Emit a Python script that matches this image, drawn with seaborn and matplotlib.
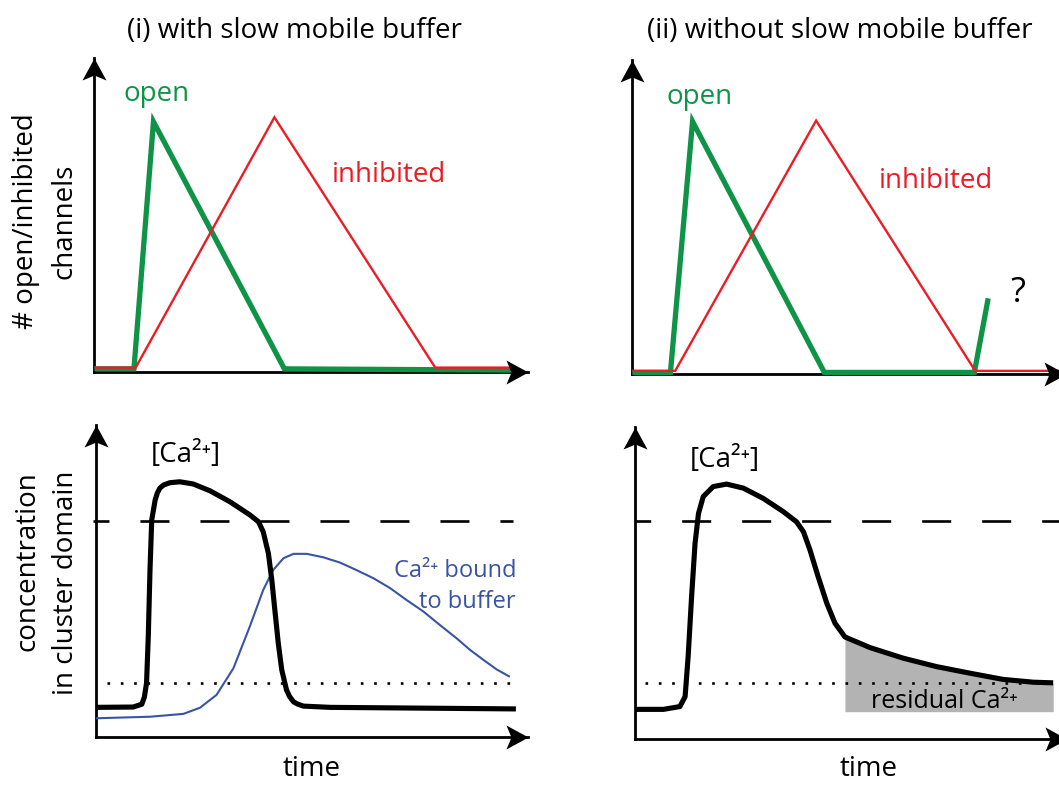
import numpy as np
import matplotlib
matplotlib.use("Agg")
import matplotlib.pyplot as plt
from matplotlib.path import Path
import seaborn as sns

# ---------------- data (time and level in arbitrary units, 0-100) ----------------
# (i) top: open / inhibited channels
open_i_t = [0, 9.1, 13.6, 43.8, 96.9]
open_i_v = [1.0, 1.0, 79.8, 1.0, 0.6]
inh_i_t = [0, 9.5, 41.5, 78.6, 96.5]
inh_i_v = [1.4, 1.4, 81.2, 1.4, 1.4]
# (ii) top: open / inhibited channels
open_ii_t = [0, 8.8, 13.9, 44.3, 78.9, 82.1]
open_ii_v = [0.5, 0.5, 80.4, 0.5, 0.5, 24.1]
inh_ii_t = [0, 9.9, 42.4, 79.1, 100]
inh_ii_v = [1.0, 1.0, 80.7, 1.0, 1.0]

# (i) bottom: [Ca2+] and Ca2+ bound to buffer
ca_i_t = [0, 8.6, 10.6, 11.2, 11.7, 12.1, 12.5, 12.9, 13.7, 14.2, 14.8, 15.7, 17.1,
          19.4, 22.5, 26.4, 31.0, 35.6, 37.6, 38.7, 39.9, 40.7, 41.4, 42.2, 43.0,
          44.1, 44.8, 45.7, 46.6, 48.0, 54.2, 97.2]
ca_i_v = [9.5, 9.6, 10.5, 12.8, 17.3, 32.1, 53.5, 69.6, 76.0, 78.2, 79.8, 80.8, 81.5,
          81.8, 81.1, 78.9, 75.4, 71.2, 69.0, 65.8, 58.9, 50.3, 40.7, 30.0, 21.5,
          15.1, 13.0, 11.3, 10.6, 9.9, 9.5, 9.0]
buf_t = [0, 12.5, 20.2, 24.1, 27.9, 31.8, 35.6, 38.7, 41.0, 43.4, 45.7, 48.8, 52.6,
         56.5, 60.3, 64.2, 68.1, 71.9, 75.8, 79.6, 83.5, 86.6, 89.7, 92.7, 95.8]
buf_v = [6.0, 6.5, 7.4, 9.4, 13.5, 22.0, 35.4, 47.1, 53.5, 57.3, 58.7, 58.7, 57.6,
         55.9, 53.5, 50.9, 47.7, 43.9, 40.2, 35.9, 31.6, 27.9, 24.7, 21.7, 19.3]

# (ii) bottom: [Ca2+]
ca_ii_t = [0, 6.6, 10.4, 11.6, 12.3, 13.1, 13.9, 14.7, 15.8, 18.1, 21.2, 25.1, 29.7,
           34.3, 37.4, 39.0, 40.5, 42.4, 44.4, 46.3, 48.6, 54.4, 62.1, 69.8, 77.5,
           85.2, 92.2, 96.8]
ca_ii_v = [9.5, 9.5, 10.4, 13.6, 26.4, 45.6, 62.7, 72.3, 77.7, 80.9, 81.7, 80.4, 77.1,
           72.9, 69.6, 66.4, 60.6, 52.0, 43.5, 37.1, 32.7, 29.3, 25.9, 23.2, 21.1,
           19.1, 18.2, 18.0]
residual_start = 48.6
residual_floor = 8.75

threshold_i, threshold_ii = 69.2, 69.9     # dashed level
rest_i, rest_ii = 17.4, 18.0               # dotted level

# ---------------- style ----------------
sns.set_theme(style="white")
FONT = "Open Sans"
plt.rcParams["font.family"] = [FONT, "DejaVu Sans"]
plt.rcParams["text.color"] = "black"
plt.rcParams["lines.scale_dashes"] = False

GREEN = "#0f9447"
RED = "#ec1c24"
BLUE = "#3a54a4"
GRAY = "#b3b3b3"
BIG = 20

W, H = 1059, 785
fig = plt.figure(figsize=(W / 100, H / 100), dpi=100)
fig.patch.set_facecolor("white")


def fxy(x, y):
    return x / W, 1 - y / H


def panel(ox, oy, w, h):
    ax = fig.add_axes([ox / W, 1 - oy / H, w / W, h / H])
    ax.set_facecolor("none")
    for s in ["top", "right"]:
        ax.spines[s].set_visible(False)
    for s in ["left", "bottom"]:
        ax.spines[s].set_linewidth(2.0)
        ax.spines[s].set_color("black")
        ax.spines[s].set_zorder(2.5)
    ax.set_xticks([])
    ax.set_yticks([])
    return ax


up_arrow = Path([(0, 0), (12, -22), (0, -17), (-12, -22), (0, 0)],
                [Path.MOVETO, Path.LINETO, Path.LINETO, Path.LINETO, Path.CLOSEPOLY])
right_arrow = Path([(0, 0), (-22, 12), (-17, 0), (-22, -12), (0, 0)],
                   [Path.MOVETO, Path.LINETO, Path.LINETO, Path.LINETO, Path.CLOSEPOLY])


def arrows(ax):
    ax.plot([0], [1], marker=up_arrow, ms=31.7, color="black", mew=0,
            transform=ax.transAxes, clip_on=False, zorder=6)
    ax.plot([1], [0], marker=right_arrow, ms=31.7, color="black", mew=0,
            transform=ax.transAxes, clip_on=False, zorder=6)


def finish(ax):
    ax.set_xlim(0, 100)
    ax.set_ylim(0, 100)
    ax.set_xlabel("")
    ax.set_ylabel("")
    arrows(ax)


def line(ax, t, v, color, lw, z, join="miter", cap="butt"):
    sns.lineplot(x=t, y=v, ax=ax, color=color, linewidth=lw, sort=False,
                 estimator=None, clip_on=False, zorder=z, legend=False,
                 solid_joinstyle=join, solid_capstyle=cap)


# ---------------- top panels ----------------
axA = panel(94.5, 372, 433.5, 313.7)
line(axA, open_i_t, open_i_v, GREEN, 3.8, 3)
line(axA, inh_i_t, inh_i_v, RED, 1.7, 4)
finish(axA)

axB = panel(632.3, 374, 433.5, 314)
line(axB, open_ii_t, open_ii_v, GREEN, 3.8, 3)
line(axB, inh_ii_t, inh_ii_v, RED, 1.7, 4)
finish(axB)

# ---------------- bottom panels ----------------
dot_style = (0, (1.9, 7.7))

axC = panel(96, 737, 432, 312)
axC.plot([-0.7, 96.5], [threshold_i, threshold_i], color="black", lw=1.9,
         linestyle=(9.4, (20.9, 22.3)), clip_on=False, zorder=2)
axC.plot([2.5, 96.5], [rest_i, rest_i], color="black", lw=1.9,
         linestyle=dot_style, clip_on=False, zorder=2)
line(axC, buf_t, buf_v, BLUE, 1.5, 3, join="round", cap="butt")
line(axC, ca_i_t, ca_i_v, "black", 3.7, 4, join="round", cap="butt")
finish(axC)

axD = panel(635, 739, 432, 312)
t2 = np.array(ca_ii_t)
v2 = np.array(ca_ii_v)
axD.fill_between(t2, v2, residual_floor, where=t2 >= residual_start,
                 color=GRAY, lw=0, zorder=1)
axD.plot([0, 100], [threshold_ii, threshold_ii], color="black", lw=1.9,
         linestyle=(9.6, (20.9, 22.3)), clip_on=False, zorder=2)
axD.plot([2.3, 92], [rest_ii, rest_ii], color="black", lw=1.9,
         linestyle=dot_style, clip_on=False, zorder=2)
line(axD, ca_ii_t, ca_ii_v, "black", 3.7, 4, join="round", cap="butt")
finish(axD)

# ---------------- text ----------------
fig.text(*fxy(294.5, 37.5), "(i) with slow mobile buffer", fontsize=BIG,
         ha="center", va="baseline", color="black")
fig.text(*fxy(840, 37.5), "(ii) without slow mobile buffer", fontsize=BIG,
         ha="center", va="baseline", color="black")

fig.text(*fxy(156.5, 101), "open", fontsize=BIG, color=GREEN, ha="center", va="baseline")
fig.text(*fxy(389, 182.5), "inhibited", fontsize=BIG, color=RED, ha="center", va="baseline")
fig.text(*fxy(700, 104), "open", fontsize=BIG, color=GREEN, ha="center", va="baseline")
fig.text(*fxy(936, 188), "inhibited", fontsize=BIG, color=RED, ha="center", va="baseline")
fig.text(*fxy(1017.5, 301.5), "?", fontsize=25, color="black", ha="center", va="baseline")

fig.text(*fxy(45.5, 221), "# open/inhibited\nchannels", fontsize=BIG, rotation=90,
         ha="center", va="center", multialignment="center", linespacing=1.5,
         color="black")
fig.text(*fxy(46.5, 583), "concentration\nin cluster domain", fontsize=BIG, rotation=90,
         ha="center", va="center", multialignment="right", linespacing=1.5,
         color="black")

fig.text(*fxy(186, 462), "[Ca²⁺]", fontsize=BIG, ha="center", va="baseline", color="black")
fig.text(*fxy(725, 467), "[Ca²⁺]", fontsize=BIG, ha="center", va="baseline", color="black")
fig.text(*fxy(516, 577), "Ca²⁺ bound", fontsize=17, color=BLUE,
         ha="right", va="baseline")
fig.text(*fxy(516, 608), "to buffer", fontsize=17, color=BLUE,
         ha="right", va="baseline")
fig.text(*fxy(944.5, 708), "residual Ca²⁺", fontsize=18, color="black",
         ha="center", va="baseline", zorder=5)

fig.text(*fxy(312, 776), "time", fontsize=BIG, ha="center", va="baseline", color="black")
fig.text(*fxy(869, 776), "time", fontsize=BIG, ha="center", va="baseline", color="black")

fig.savefig("out.png", dpi=100, facecolor="white")
